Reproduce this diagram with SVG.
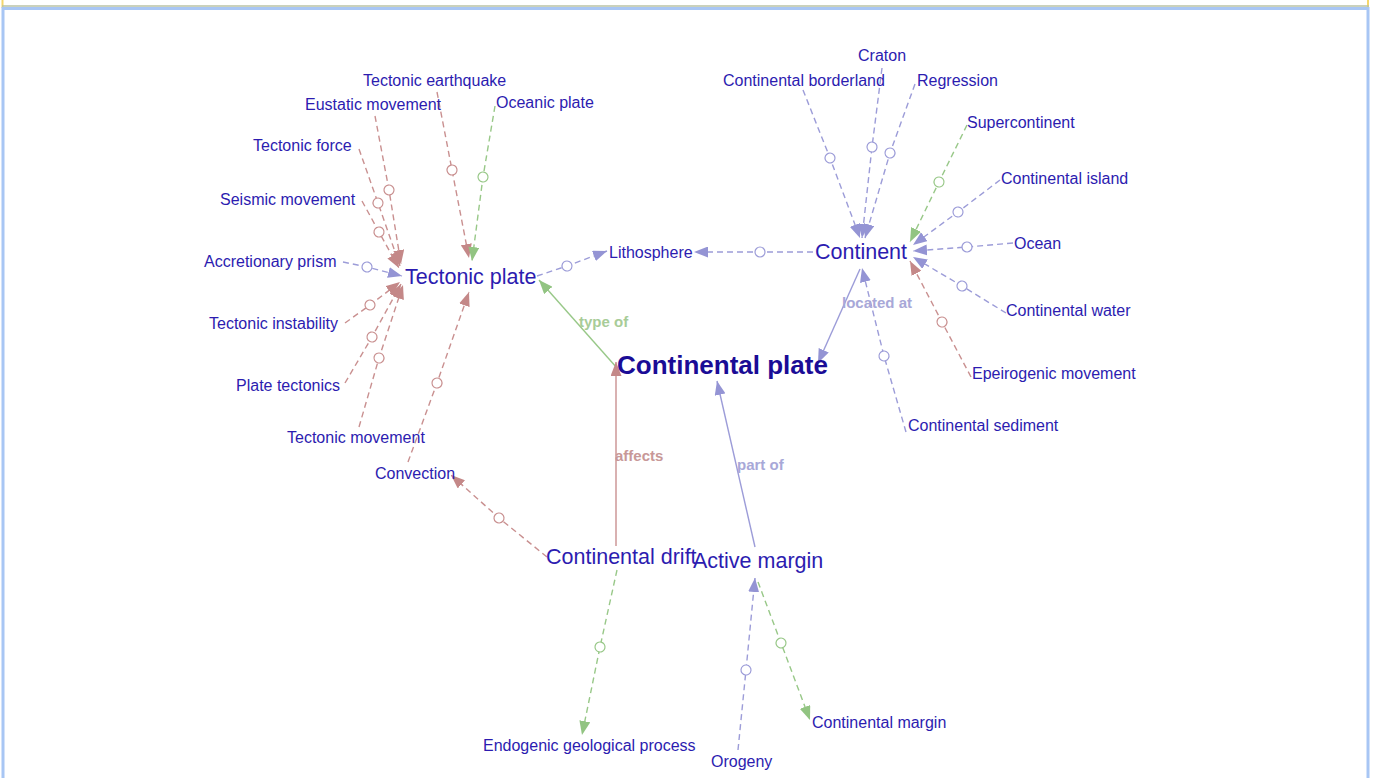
<svg xmlns="http://www.w3.org/2000/svg" width="1374" height="778" viewBox="0 0 1374 778">
  <style>
    .lbl { font-family: "Liberation Sans", Arial, sans-serif; font-size: 16px; fill: #2c1cb0; }
    .big { font-family: "Liberation Sans", Arial, sans-serif; font-size: 21.5px; fill: #2c1cb0; }
    .main { font-family: "Liberation Sans", Arial, sans-serif; font-size: 26px; font-weight: bold; fill: #1a0c96; }
    .elbl { font-family: "Liberation Sans", Arial, sans-serif; font-size: 15px; font-weight: bold; }
    .e { fill: none; stroke-width: 1.4; }
    .d { stroke-dasharray: 6 4; }
    .rose { stroke: #c99090; }
    .green { stroke: #98c888; }
    .lav { stroke: #9c9cd8; }
    .rd { stroke: #c99090; marker-mid: url(#dotR); marker-end: url(#arrR); }
    .gd { stroke: #98c888; marker-mid: url(#dotG); marker-end: url(#arrG); }
    .ld { stroke: #9c9cd8; marker-mid: url(#dotL); marker-end: url(#arrL); }
  </style>
  <defs>
    <marker id="arrR" markerUnits="userSpaceOnUse" markerWidth="14" markerHeight="11" refX="14" refY="5.5" orient="auto">
      <path d="M0,0 L14,5.5 L0,11 z" fill="#c48888"/>
    </marker>
    <marker id="arrG" markerUnits="userSpaceOnUse" markerWidth="14" markerHeight="11" refX="14" refY="5.5" orient="auto">
      <path d="M0,0 L14,5.5 L0,11 z" fill="#92c482"/>
    </marker>
    <marker id="arrL" markerUnits="userSpaceOnUse" markerWidth="14" markerHeight="11" refX="14" refY="5.5" orient="auto">
      <path d="M0,0 L14,5.5 L0,11 z" fill="#9494d4"/>
    </marker>
    <marker id="dotR" markerUnits="userSpaceOnUse" markerWidth="14" markerHeight="14" refX="7" refY="7" orient="auto">
      <circle cx="7" cy="7" r="5" fill="#fff" stroke="#c99090" stroke-width="1.2"/>
    </marker>
    <marker id="dotG" markerUnits="userSpaceOnUse" markerWidth="14" markerHeight="14" refX="7" refY="7" orient="auto">
      <circle cx="7" cy="7" r="5" fill="#fff" stroke="#98c888" stroke-width="1.2"/>
    </marker>
    <marker id="dotL" markerUnits="userSpaceOnUse" markerWidth="14" markerHeight="14" refX="7" refY="7" orient="auto">
      <circle cx="7" cy="7" r="5" fill="#fff" stroke="#9c9cd8" stroke-width="1.2"/>
    </marker>
  </defs>

  <!-- page frame -->
  <rect x="0" y="0" width="1374" height="778" fill="#ffffff"/>
  <line x1="2.5" y1="0" x2="2.5" y2="8" stroke="#f5d66a" stroke-width="2"/>
  <line x1="1368" y1="0" x2="1368" y2="8" stroke="#f5d66a" stroke-width="2"/>
  <line x1="2" y1="6" x2="1369" y2="6" stroke="#b8c2a4" stroke-width="1.5"/>
  <rect x="3" y="8.5" width="1365" height="800" fill="none" stroke="#a8c6f4" stroke-width="3"/>

  <!-- connectors -->
  <g id="connectors">
    <!-- into Tectonic plate -->
    <path class="e d rd" d="M437,92 L452,170 L469,258"/>
    <path class="e d rd" d="M375,116 L389,190 L401,264"/>
    <path class="e d rd" d="M359,149 L378,203 L400,266"/>
    <path class="e d rd" d="M362,201 L379,232 L399,268"/>
    <path class="e d ld" d="M343,262 L367,267 L402,276"/>
    <path class="e d rd" d="M345,323 L370,305 L400,282"/>
    <path class="e d rd" d="M345,383 L372,337 L401,284"/>
    <path class="e d rd" d="M359,427 L379,358 L403,285"/>
    <path class="e d rd" d="M408,462 L437,383 L469,292"/>
    <path class="e d gd" d="M495,106 L483,177 L472,261"/>
    <!-- Lithosphere -->
    <path class="e d ld" d="M537,276 L567,266 L607,251"/>
    <path class="e d ld" d="M813,252 L760,252 L694,252"/>
    <!-- into Continent -->
    <path class="e d ld" d="M803,90 L830,158 L860,238"/>
    <path class="e d ld" d="M882,68 L872,147 L862,238"/>
    <path class="e d ld" d="M915,84 L890,153 L865,238"/>
    <path class="e d gd" d="M967,125 L939,182 L910,242"/>
    <path class="e d ld" d="M1000,180 L958,212 L913,245"/>
    <path class="e d ld" d="M1013,243 L967,247 L913,251"/>
    <path class="e d ld" d="M1006,313 L962,286 L913,257"/>
    <path class="e d rd" d="M971,377 L942,322 L910,261"/>
    <path class="e d ld" d="M906,432 L884,356 L862,268"/>
    <!-- lower part -->
    <path class="e d rd" d="M547,557 L499,518 L451,475"/>
    <path class="e d gd" d="M617,570 L600,647 L582,735"/>
    <path class="e d ld" d="M738,750 L746,670 L755,578"/>
    <path class="e d gd" d="M758,582 L781,643 L810,720"/>
    <!-- solid labelled links -->
    <line class="e green" x1="617" y1="368" x2="539" y2="280" marker-end="url(#arrG)"/>
    <line class="e rose" x1="616" y1="546" x2="616" y2="362" marker-end="url(#arrR)"/>
    <line class="e lav" x1="755" y1="547" x2="717" y2="381" marker-end="url(#arrL)"/>
    <line class="e lav" x1="860" y1="269" x2="818" y2="363" marker-end="url(#arrL)"/>
    <text class="elbl" x="579" y="327" fill="#a8cc98">type of</text>
    <text class="elbl" x="842" y="308" fill="#a8a8d8">located at</text>
    <text class="elbl" x="615" y="461" fill="#c89898">affects</text>
    <text class="elbl" x="737" y="470" fill="#a8a8d8">part of</text>
  </g>

  <!-- nodes -->
  <g id="continental-plate"><text class="main" x="617" y="374">Continental plate</text></g>
  <g id="tectonic-plate"><text class="big" x="405" y="284">Tectonic plate</text></g>
  <g id="continent"><text class="big" x="815" y="259">Continent</text></g>
  <g id="continental-drift"><text class="big" x="546" y="564">Continental drift</text></g>
  <g id="active-margin"><text class="big" x="693" y="568">Active margin</text></g>
  <g id="lithosphere"><text class="lbl" x="609" y="258">Lithosphere</text></g>

  <g id="tectonic-earthquake"><text class="lbl" x="363" y="86">Tectonic earthquake</text></g>
  <g id="eustatic-movement"><text class="lbl" x="305" y="110">Eustatic movement</text></g>
  <g id="oceanic-plate"><text class="lbl" x="496" y="108">Oceanic plate</text></g>
  <g id="tectonic-force"><text class="lbl" x="253" y="151">Tectonic force</text></g>
  <g id="seismic-movement"><text class="lbl" x="220" y="205">Seismic movement</text></g>
  <g id="accretionary-prism"><text class="lbl" x="204" y="267">Accretionary prism</text></g>
  <g id="tectonic-instability"><text class="lbl" x="209" y="329">Tectonic instability</text></g>
  <g id="plate-tectonics"><text class="lbl" x="236" y="391">Plate tectonics</text></g>
  <g id="tectonic-movement"><text class="lbl" x="287" y="443">Tectonic movement</text></g>
  <g id="convection"><text class="lbl" x="375" y="479">Convection</text></g>

  <g id="continental-borderland"><text class="lbl" x="723" y="86">Continental borderland</text></g>
  <g id="craton"><text class="lbl" x="858" y="61">Craton</text></g>
  <g id="regression"><text class="lbl" x="917" y="86">Regression</text></g>
  <g id="supercontinent"><text class="lbl" x="967" y="128">Supercontinent</text></g>
  <g id="continental-island"><text class="lbl" x="1001" y="184">Continental island</text></g>
  <g id="ocean"><text class="lbl" x="1014" y="249">Ocean</text></g>
  <g id="continental-water"><text class="lbl" x="1006" y="316">Continental water</text></g>
  <g id="epeirogenic-movement"><text class="lbl" x="972" y="379">Epeirogenic movement</text></g>
  <g id="continental-sediment"><text class="lbl" x="908" y="431">Continental sediment</text></g>

  <g id="endogenic-geological-process"><text class="lbl" x="483" y="751">Endogenic geological process</text></g>
  <g id="orogeny"><text class="lbl" x="711" y="767">Orogeny</text></g>
  <g id="continental-margin"><text class="lbl" x="812" y="728">Continental margin</text></g>
</svg>
